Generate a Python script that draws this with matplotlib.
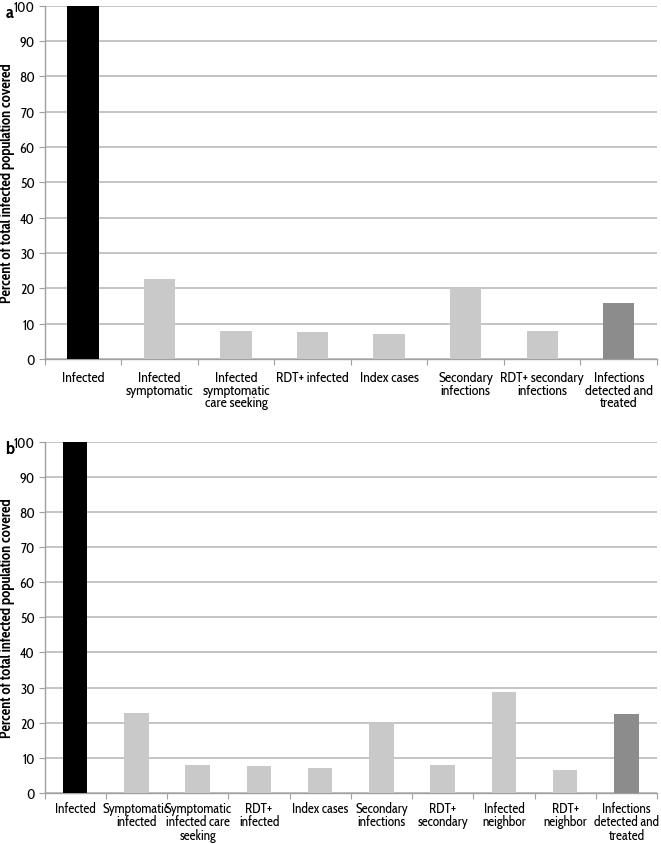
import matplotlib
matplotlib.use('Agg')
import matplotlib.pyplot as plt
import numpy as np

# Panel a data
labels_a = ['Infected', 'Infected\nsymptomatic', 'Infected\nsymptomatic\ncare seeking',
            'RDT+ infected', 'Index cases', 'Secondary\ninfections',
            'RDT+ secondary\ninfections', 'Infections\ndetected and\ntreated']
values_a = [100, 22.7, 8.0, 7.7, 7.2, 20.0, 8.0, 15.8]

# Panel b data
labels_b = ['Infected', 'Symptomatic\ninfected', 'Symptomatic\ninfected care\nseeking',
            'RDT+\ninfected', 'Index cases', 'Secondary\ninfections', 'RDT+\nsecondary',
            'Infected\nneighbor', 'RDT+\nneighbor', 'Infections\ndetected and\ntreated']
values_b = [100, 22.7, 8.0, 7.7, 7.2, 20.0, 8.0, 28.8, 6.5, 22.4]

BLACK = '#000000'
LIGHT = '#c9c9c9'
DARK = '#8c8c8c'
AXIS = '#a0a0a0'
GRID = '#c4c4c4'

plt.rcParams['font.family'] = ['Cabin Condensed', 'DejaVu Sans']

fig = plt.figure(figsize=(6.61, 8.45), dpi=100)
ax_a = fig.add_axes([0.0675, 0.574, 0.9265, 0.418])
ax_b = fig.add_axes([0.0675, 0.0604, 0.9265, 0.4157])


def draw_panel(ax, labels, values, width, letter, size, pad):
    n = len(values)
    x = np.arange(n)
    colors = [BLACK] + [LIGHT] * (n - 2) + [DARK]
    ax.bar(x, values, width=width, color=colors, zorder=3)
    ax.set_xlim(-0.5, n - 0.5)
    ax.set_ylim(0, 100)
    ax.set_yticks(np.arange(0, 101, 10))
    ax.yaxis.grid(True, color=GRID, linewidth=1.4, zorder=0)
    ax.set_axisbelow(True)
    # category boundaries as major ticks, labels at centres on minor ticks
    ax.set_xticks(np.arange(-0.5, n, 1.0))
    ax.set_xticklabels([])
    ax.set_xticks(x, minor=True)
    ax.set_xticklabels(labels, minor=True, fontsize=size, linespacing=0.92, va='top')
    ax.tick_params(axis='x', which='major', length=4, color=AXIS, direction='out')
    ax.tick_params(axis='x', which='minor', length=0, pad=pad)
    ax.tick_params(axis='y', length=4, color=AXIS, labelsize=10, pad=3)
    for s in ['top', 'right']:
        ax.spines[s].set_visible(False)
    for s in ['left', 'bottom']:
        ax.spines[s].set_color(AXIS)
        ax.spines[s].set_linewidth(1.0)
    ax.set_ylabel('Percent of total infected population covered', fontsize=10.5,
                  fontweight='bold')
    ax.yaxis.set_label_coords(-0.049, 0.5)
    ax.text(-0.064, 1.006, letter, transform=ax.transAxes, fontsize=13,
            fontweight='bold', ha='left', va='top')


draw_panel(ax_a, labels_a, values_a, 0.41, 'a', 10, 9)
draw_panel(ax_b, labels_b, values_b, 0.40, 'b', 9.6, 6)

fig.savefig('out.png', dpi=100)
